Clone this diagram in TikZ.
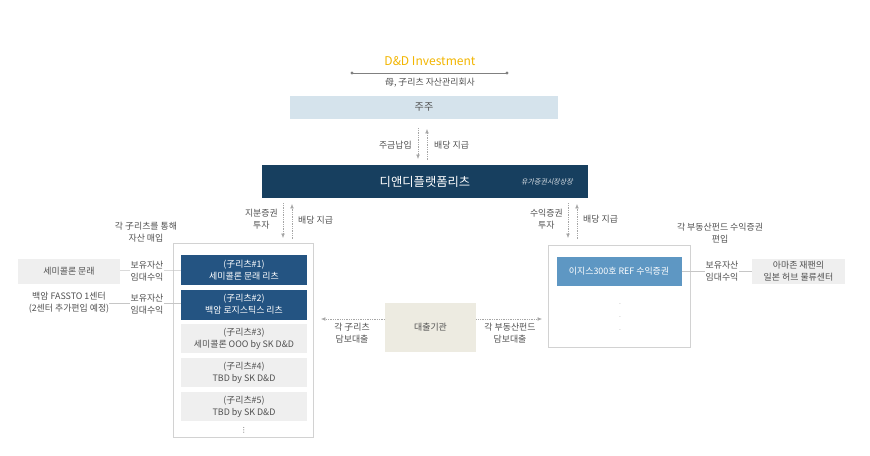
\documentclass[tikz,border=0pt]{standalone}
\usepackage{fontspec}
\setmainfont{Noto Sans CJK KR}
\newfontfamily\slantkr[FakeSlant=0.2]{Noto Sans CJK KR}
\newfontfamily\symfont{DejaVu Sans}
\usetikzlibrary{arrows.meta}
\definecolor{navy}{HTML}{173F5F}
\definecolor{reitblue}{HTML}{245482}
\definecolor{fundblue}{HTML}{5E97C3}
\definecolor{pale}{HTML}{D5E3EC}
\definecolor{lgray}{HTML}{EFEFEF}
\definecolor{beige}{HTML}{EDEBE1}
\definecolor{gold}{HTML}{F2B500}
\definecolor{txt}{HTML}{505050}
\tikzset{
    every node/.style={inner sep=0mm, align=center, text=txt, font=\fontsize{7.6}{10.2}\selectfont}
}
\tikzset{
    flow/.style={densely dotted, gray!70, line width=.5pt, -{Latex[length=1.3mm,width=1.1mm]}},
    link/.style={gray!45, line width=.4pt},
    frame/.style={draw=gray!35, line width=.7pt, fill=white},
    reit/.style={fill=reitblue, text=white, minimum width=37.8mm, minimum height=9mm},
    subreit/.style={fill=lgray, minimum width=37.8mm, minimum height=8.7mm},
    tag/.style={fill=white, inner sep=.3mm}
}

\begin{document}
\begin{tikzpicture}[x=0.3mm, y=-0.3mm]
  \useasboundingbox (0,0) rectangle (870,455);

  % top: asset manager and shareholders
  \node (dd) [text=gold, font=\fontsize{10.3}{11}\selectfont] at (430,61) {D\&D Investment};
  \coordinate (ddl) at (352,73);
  \coordinate (ddr) at (507,73);
  \draw [gray, line width=.4pt] (ddl) -- (ddr);
  \fill [gray] (ddl) circle (1.6) (ddr) circle (1.6);
  \node (amc) at (430,83) {母, 子리츠 자산관리회사};
  \node (holder) [fill=pale, minimum width=80.4mm, minimum height=6.9mm, font=\fontsize{8.6}{9}\selectfont] at (424,107) {주주};

  \node (plat) [fill=navy, text=white, minimum width=97.8mm, minimum height=9.9mm, font=\fontsize{10.5}{11}\selectfont] at (425,181.5) {디앤디플랫폼리츠};
  \node (listed) [text=white!85!navy, font=\slantkr\fontsize{6}{7}\selectfont] at (547,182) {유가증권시장상장};

  \coordinate (t1a) at (418,128);  \coordinate (t1b) at (418,159);
  \coordinate (t2a) at (427,160);  \coordinate (t2b) at (427,129);
  \draw [flow] (t1a) -- (t1b);
  \draw [flow] (t2a) -- (t2b);
  \node (pay) [anchor=east] at (412,145) {주금납입};
  \node (div) [anchor=west] at (434,145) {배당 지급};

  % left: sub REITs
  \node (lbox) [frame, minimum width=42mm, minimum height=58.2mm] at (243.5,340.5) {};
  \node (r1) [reit] at (244,270) {(子리츠\#1)\\세미콜론 문래 리츠};
  \node (r2) [reit] at (244,304.5) {(子리츠\#2)\\백암 로지스틱스 리츠};
  \node (r3) [subreit] at (244,338.5) {(子리츠\#3)\\세미콜론 OOO by SK D\&D};
  \node (r4) [subreit] at (244,372.5) {(子리츠\#4)\\TBD by SK D\&D};
  \node (r5) [subreit] at (244,406.5) {(子리츠\#5)\\TBD by SK D\&D};
  \node (ldots) [font=\symfont\fontsize{6}{6}\selectfont] at (244,430) {⋮};

  \coordinate (l1a) at (283,203);  \coordinate (l1b) at (283,238);
  \coordinate (l2a) at (292,239);  \coordinate (l2b) at (292,204);
  \draw [flow] (l1a) -- (l1b);
  \draw [flow] (l2a) -- (l2b);
  \node (eq) [anchor=east] at (278,219) {지분증권\\투자};
  \node (ldiv) [anchor=west] at (298,220) {배당 지급};
  \node (buy) at (146,232) {각 子리츠를 통해\\자산 매입};

  \node (a1) [fill=lgray, minimum width=30.6mm, minimum height=7.5mm] at (69,271) {세미콜론 문래};
  \node (a2) at (69,303) {백암 FASSTO 1센터\\(2센터 추가편입 예정)};
  \draw [link] (a1) -- (r1);
  \draw [link] (a2.east) -- (r2.west |- a2.east);
  \node (inc1) [tag] at (147,271) {보유자산\\임대수익};
  \node (inc2) [tag] at (147,304) {보유자산\\임대수익};

  % middle: lender
  \node (lend) [fill=beige, minimum width=27.3mm, minimum height=14.7mm] at (430.5,327.5) {대출기관};
  \coordinate (lendl) at (321,319);
  \coordinate (lendr) at (542,319);
  \draw [flow] (lend.west |- lendl) -- (lendl);
  \draw [flow] (lend.east |- lendr) -- (lendr);
  \node (loan1) at (352,333) {각 子리츠\\담보대출};
  \node (loan2) at (510,333) {각 부동산펀드\\담보대출};

  % right: real estate funds
  \node (rbox) [frame, minimum width=42.6mm, minimum height=30.6mm] at (619,296) {};
  \node (ref) [fill=fundblue, text=white, minimum width=37.5mm, minimum height=8.7mm] at (619,271) {이지스300호 REF 수익증권};
  \node (rdots) [font=\fontsize{6}{11}\selectfont, text=gray!70] at (620,318) {·\\·\\·};

  \coordinate (r1a) at (568,203);  \coordinate (r1b) at (568,238);
  \coordinate (r2a) at (577,239);  \coordinate (r2b) at (577,204);
  \draw [flow] (r1a) -- (r1b);
  \draw [flow] (r2a) -- (r2b);
  \node (ben) [anchor=east] at (563,219) {수익증권\\투자};
  \node (rdiv) [anchor=west] at (583,219) {배당 지급};
  \node (incl) at (720,233) {각 부동산펀드 수익증권\\편입};

  \node (amz) [fill=lgray, minimum width=27.9mm, minimum height=7.5mm] at (798.5,271) {아마존 재팬의\\일본 허브 물류센터};
  \draw [link] (ref) -- (amz);
  \node (inc3) [tag] at (722,271) {보유자산\\임대수익};
\end{tikzpicture}
\end{document}
